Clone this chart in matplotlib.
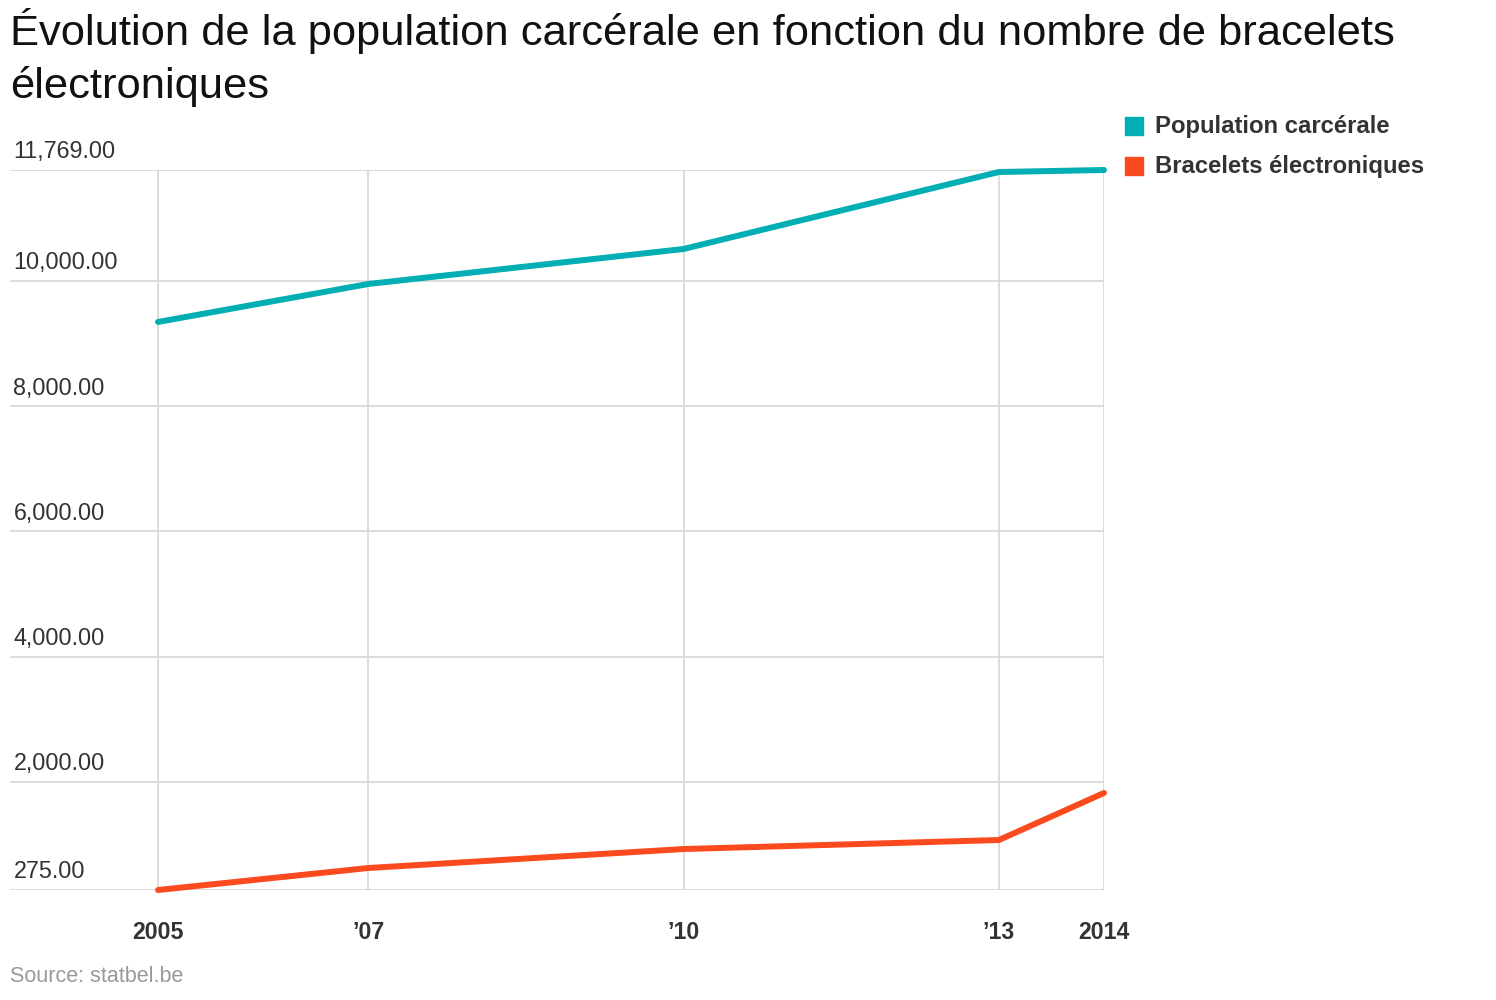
import matplotlib
matplotlib.use("Agg")
import matplotlib.pyplot as plt
from matplotlib.patches import Rectangle

plt.rcParams['font.family'] = ['Liberation Sans', 'DejaVu Sans']

# Données
annees = [2005, 2007, 2010, 2013, 2014]
population = [9343, 9949, 10508, 11737, 11769]
bracelets = [275, 626, 929, 1073, 1824]

ticks_x = [2005, 2007, 2010, 2013, 2014]
labels_x = ['2005', '\u201907', '\u201910', '\u201913', '2014']
ticks_y = [275, 2000, 4000, 6000, 8000, 10000, 11769]
labels_y = ['275.00', '2,000.00', '4,000.00', '6,000.00', '8,000.00', '10,000.00', '11,769.00']

series = ['Population carcérale', 'Bracelets électroniques']
couleurs = ['#00aeb3', '#fc4a1f']

fig = plt.figure(figsize=(14.96, 10), dpi=100)
ax = fig.add_axes([10 / 1496, 0.11, 1094 / 1496, 0.72])

ax.plot(annees, population, color=couleurs[0], lw=4.3, solid_capstyle='round',
        zorder=3, clip_on=False)
ax.plot(annees, bracelets, color=couleurs[1], lw=4.3, solid_capstyle='round',
        zorder=3, clip_on=False)

# axes: 2005 à x=158px, 2014 à x=1104px
pas = (1104 - 158) / 9
ax.set_xlim(2005 - (158 - 10) / pas, 2014)
ax.set_ylim(275, 11769)

for s in ax.spines.values():
    s.set_visible(False)

ax.set_xticks(ticks_x)
ax.set_xticklabels(labels_x, fontsize=16.7, fontweight='bold', color='#333333')
ax.tick_params(axis='x', length=0, pad=22)
ax.set_yticks(ticks_y)
ax.set_yticklabels([])
ax.tick_params(axis='y', length=0)
ax.grid(True, color='#d9d9d9', lw=1.3, zorder=0)
ax.set_axisbelow(True)

for v, lab in zip(ticks_y, labels_y):
    ax.annotate(lab, xy=(0, v), xycoords=ax.get_yaxis_transform(),
                xytext=(2.5, 8.3), textcoords='offset points', va='baseline',
                ha='left', fontsize=16.8, color='#333333')

titre = ["Évolution de la population carcérale en fonction du nombre de bracelets",
         "électroniques"]
fig.text(10 / 1496, 1 - 45 / 1000, titre[0], fontsize=31.3, color='#111111',
         ha='left', va='baseline')
fig.text(10 / 1496, 1 - 98 / 1000, titre[1], fontsize=31.3, color='#111111',
         ha='left', va='baseline')

# légende
for i, (nom, c) in enumerate(zip(series, couleurs)):
    y = 126 + 40 * i
    fig.patches.append(Rectangle((1125 / 1496, 1 - (y + 9) / 1000), 18 / 1496, 18 / 1000,
                                 transform=fig.transFigure, color=c))
    fig.text(1155 / 1496, 1 - y / 1000, nom, fontsize=17.2, fontweight='bold',
             color='#333333', ha='left', va='center')

fig.text(10 / 1496, 1 - 976 / 1000, 'Source: statbel.be', fontsize=15.5,
         color='#999999', ha='left', va='center')

fig.savefig('out.png', dpi=100, facecolor='white')
